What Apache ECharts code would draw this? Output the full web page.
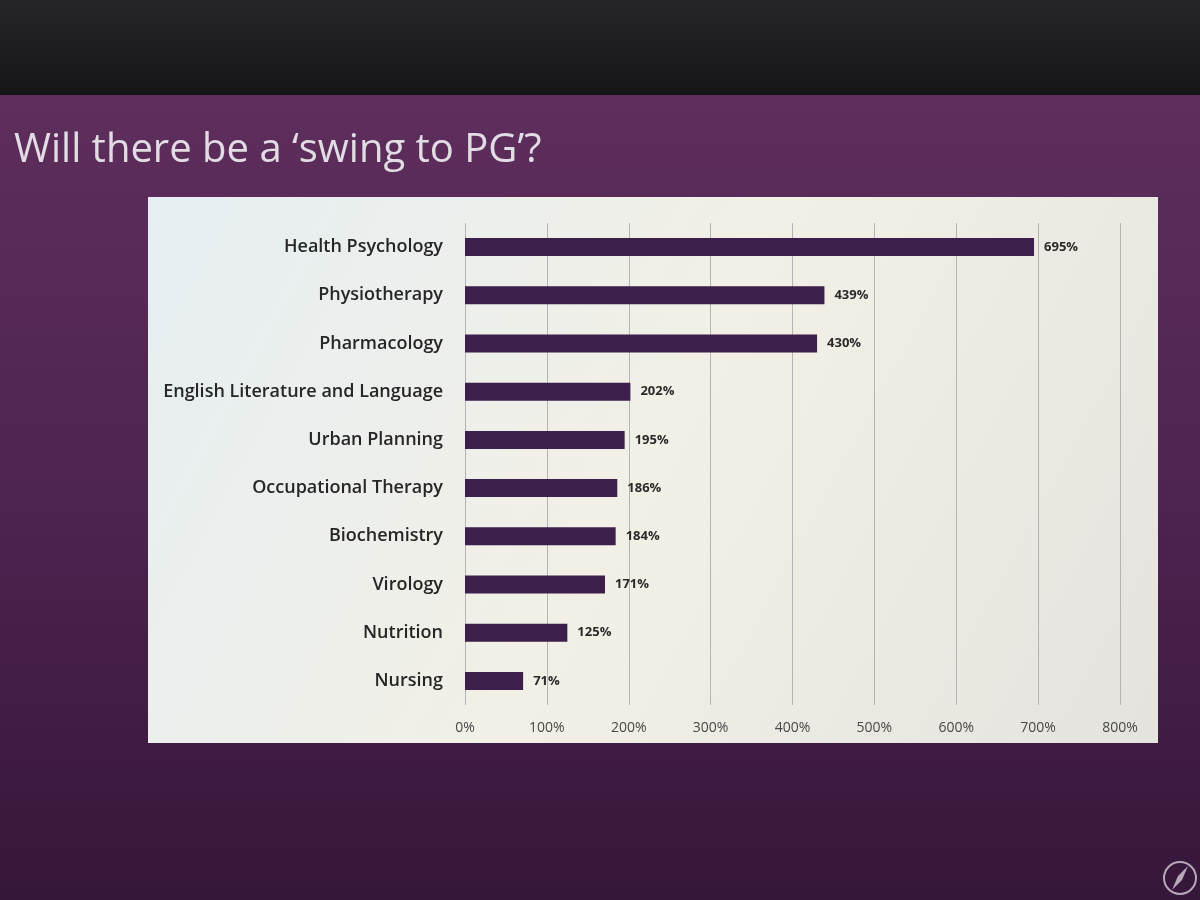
<!DOCTYPE html>
<html>
<head>
<meta charset="utf-8">
<script src="https://cdn.jsdelivr.net/npm/echarts@6/dist/echarts.min.js"></script>
<style>html,body{margin:0;padding:0;background:#2a1a2e;}#c{width:1200px;height:900px;}</style>
</head>
<body>
<div id="c"></div>
<script>
const categories = ['Health Psychology','Physiotherapy','Pharmacology','English Literature and Language','Urban Planning','Occupational Therapy','Biochemistry','Virology','Nutrition','Nursing'];
const values = [695, 439, 430, 202, 195, 186, 184, 171, 125, 71];
const titleText = 'Will there be a \u2018swing to PG\u2019?';

const chart = echarts.init(document.getElementById('c'));
chart.setOption({
  animation: false,
  backgroundColor: '#4a2248',
  title: {
    text: titleText,
    left: 9, top: 126,
    textStyle: { color: '#e2dce4', fontSize: 40, fontWeight: 'normal', fontFamily: 'Open Sans' }
  },
  graphic: [
    { type: 'rect', z: -10, silent: true, shape: { x: 0, y: 0, width: 1200, height: 95 },
      style: { fill: new echarts.graphic.LinearGradient(0, 0, 0, 1, [{offset: 0, color: '#262629'}, {offset: 1, color: '#161618'}]) } },
    { type: 'rect', z: -10, silent: true, shape: { x: 0, y: 95, width: 1200, height: 805 },
      style: { fill: new echarts.graphic.LinearGradient(0, 0, 0, 1, [{offset: 0, color: '#5e2e5c'}, {offset: 0.5, color: '#4e2450'}, {offset: 1, color: '#36163a'}]) } },
    { type: 'rect', z: -9, silent: true, shape: { x: 148, y: 197, width: 1010, height: 546 },
      style: { fill: new echarts.graphic.LinearGradient(0, 0, 1, 1, [{offset: 0, color: '#e6eef2'}, {offset: 0.5, color: '#f2f0e6'}, {offset: 1, color: '#e4e3de'}]) } },
    { type: 'circle', z: 5, silent: true, shape: { cx: 1180, cy: 878, r: 16 },
      style: { fill: 'none', stroke: '#b8a8b8', lineWidth: 2 } },
    { type: 'polygon', z: 5, silent: true, shape: { points: [[1188, 866], [1182, 880], [1172, 890], [1178, 876]] },
      style: { fill: '#b8a8b8' } }
  ],
  grid: { left: 465, right: 80, top: 223, bottom: 195, containLabel: false },
  xAxis: {
    type: 'value', min: 0, max: 800, interval: 100,
    axisLine: { show: false }, axisTick: { show: false },
    splitLine: { show: true, lineStyle: { color: '#b4b4b4', width: 1 } },
    axisLabel: { formatter: '{value}%', color: '#484848', fontSize: 14, margin: 16, fontFamily: 'Open Sans' }
  },
  yAxis: {
    type: 'category', data: categories, inverse: true,
    axisLine: { show: false }, axisTick: { show: false },
    axisLabel: { color: '#262626', fontSize: 18, fontWeight: 600, margin: 22, fontFamily: 'Open Sans' }
  },
  series: [{
    type: 'bar', data: values, barWidth: 18,
    itemStyle: { color: '#3d1f4c' },
    label: { show: true, position: 'right', distance: 10, formatter: '{c}%', color: '#2a2a2a', fontSize: 13, fontWeight: 'bold', fontFamily: 'Open Sans' }
  }]
});
</script>
</body>
</html>
